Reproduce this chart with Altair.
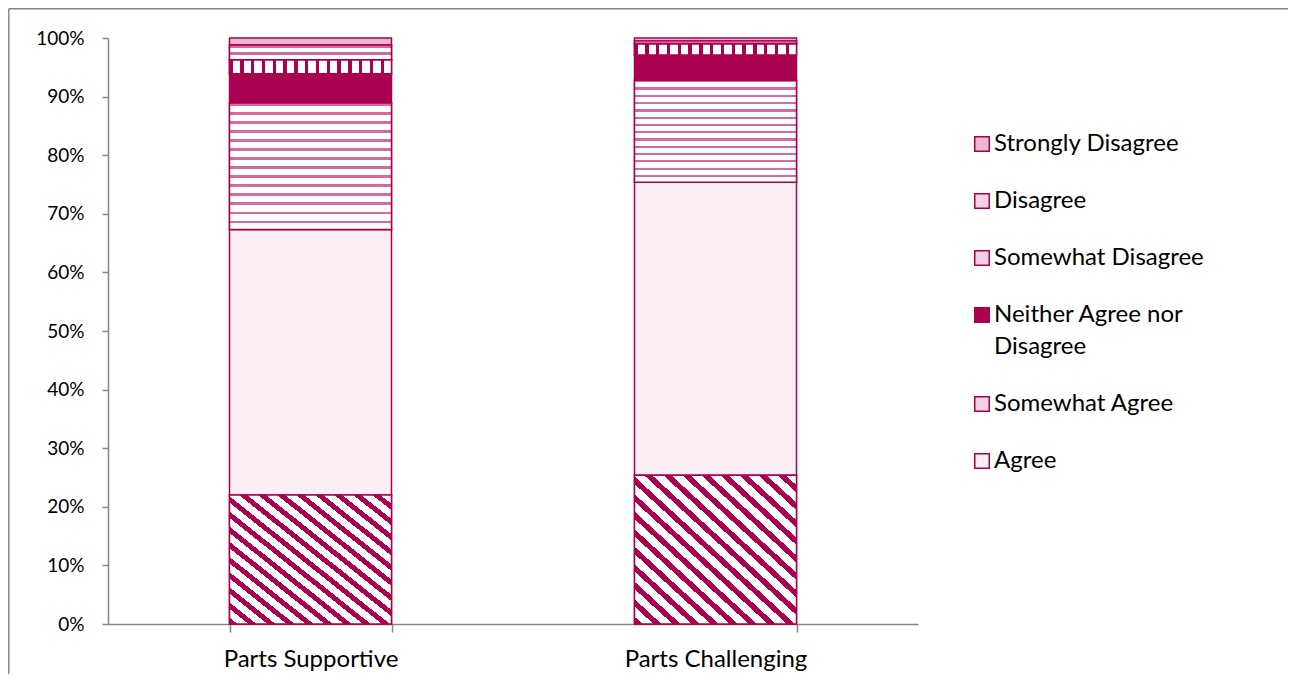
import altair as alt
import pandas as pd

categories = ["Parts Supportive", "Parts Challenging"]
responses = ["Strongly Agree", "Agree", "Somewhat Agree", "Neither Agree nor Disagree",
             "Somewhat Disagree", "Disagree", "Strongly Disagree"]
supportive = [22.0, 45.3, 21.6, 5.0, 2.4, 2.5, 1.2]
challenging = [25.4, 50.0, 17.4, 4.3, 1.9, 0.5, 0.5]
legend_entries = ["Strongly Disagree", "Disagree", "Somewhat Disagree",
                  "Neither Agree nor Disagree", "Somewhat Agree", "Agree"]

MAG = "#AA004F"
WAVE = "#D46A9E"
FONT = "Lato"

rows = []
for cat, vals in zip(categories, [supportive, challenging]):
    for i, (r, v) in enumerate(zip(responses, vals)):
        rows.append({"group": cat, "response": r, "order": i, "value": v})
df = pd.DataFrame(rows)

# solid approximations (used for legend symbols and plain segments)
domain = list(reversed(responses))
fills = ["#EDB7CF", "#F5D3E2", "#F3D0DF", MAG, "#F3D0DF", "#FAEDF3", "#F3CFDF"]


def stripes(n, frac, color, x1, y1, x2, y2, bg="#FFFFFF"):
    stops = []
    for i in range(n):
        a = i / n
        b = (i + frac) / n
        c = (i + 1) / n
        stops += [alt.GradientStop(color=color, offset=a), alt.GradientStop(color=color, offset=b),
                  alt.GradientStop(color=bg, offset=b), alt.GradientStop(color=bg, offset=c)]
    return alt.LinearGradient(gradient="linear", stops=stops, x1=x1, y1=y1, x2=x2, y2=y2)


patterns = {
    "Strongly Agree": stripes(17, 0.42, MAG, 0, 1, 1, 0),
    "Somewhat Agree": stripes(14, 0.3, WAVE, 0, 0, 0, 1),
    "Somewhat Disagree": stripes(15, 0.3, MAG, 0, 0, 1, 0),
    "Disagree": stripes(2, 0.35, WAVE, 0, 0, 0, 1),
}

base = alt.Chart(df).transform_stack(
    stack="value", groupby=["group"], as_=["y0", "y1"],
    sort=[alt.SortField("order", order="ascending")], offset="normalize"
)

x_enc = alt.X("group:N", sort=categories,
              scale=alt.Scale(paddingInner=0.6, paddingOuter=0.3),
              axis=alt.Axis(title=None, labelAngle=0, tickBand="extent", tickSize=8,
                            labelPadding=15, labelFontSize=24, labelLimit=400))
y_enc = alt.Y("y0:Q", scale=alt.Scale(domain=[0, 1]),
              axis=alt.Axis(title=None, format=".0%", values=[i / 10 for i in range(11)],
                            tickSize=6, labelPadding=18, grid=False, labelFontSize=19))
y2_enc = alt.Y2("y1:Q")

solid = base.mark_bar(stroke=MAG, strokeWidth=1.5).encode(
    x=x_enc, y=y_enc, y2=y2_enc,
    color=alt.Color("response:N", scale=alt.Scale(domain=domain, range=fills),
                    legend=alt.Legend(
                        title=None, values=legend_entries, orient="none",
                        legendX=862, legendY=94, symbolType="square", symbolSize=210,
                        symbolStrokeColor=MAG, symbolStrokeWidth=1.5, rowPadding=33,
                        labelFontSize=24, labelFont=FONT, labelColor="#000000",
                        labelOffset=0, labelLimit=300,
                        labelExpr="datum.label == 'Neither Agree nor Disagree' ? ['Neither Agree nor', 'Disagree'] : datum.label"))
)

layers = [solid]
for r, g in patterns.items():
    layers.append(
        base.transform_filter(alt.datum.response == r)
        .mark_bar(fill=g, stroke=MAG, strokeWidth=1.5)
        .encode(x=x_enc, y=y_enc, y2=y2_enc)
    )

frame = alt.Chart(alt.Data(values=[{"a": 1}]))
top_edge = frame.mark_rule(color="#868686", strokeWidth=1.5).encode(
    x=alt.value(-99.2), x2=alt.value(2000), y=alt.value(-29.2))
left_edge = frame.mark_rule(color="#868686", strokeWidth=1.5).encode(
    x=alt.value(-99.2), y=alt.value(-29.2), y2=alt.value(2000))
layers += [top_edge, left_edge]

chart = alt.layer(*layers).properties(
    width=810, height=586,
    autosize=alt.AutoSizeParams(type="none"),
    padding={"left": 100, "top": 30, "right": 370, "bottom": 50},
).configure(
    style={"guide-label": {"lineHeight": 32}}
).configure_view(stroke=None).configure_axis(
    domainColor="#868686", tickColor="#868686", labelFont=FONT, labelFontSize=20,
    labelColor="#000000", domainWidth=1.5, tickWidth=1.5
)

chart.save("out.html", embed_options={"renderer": "svg", "actions": False})
